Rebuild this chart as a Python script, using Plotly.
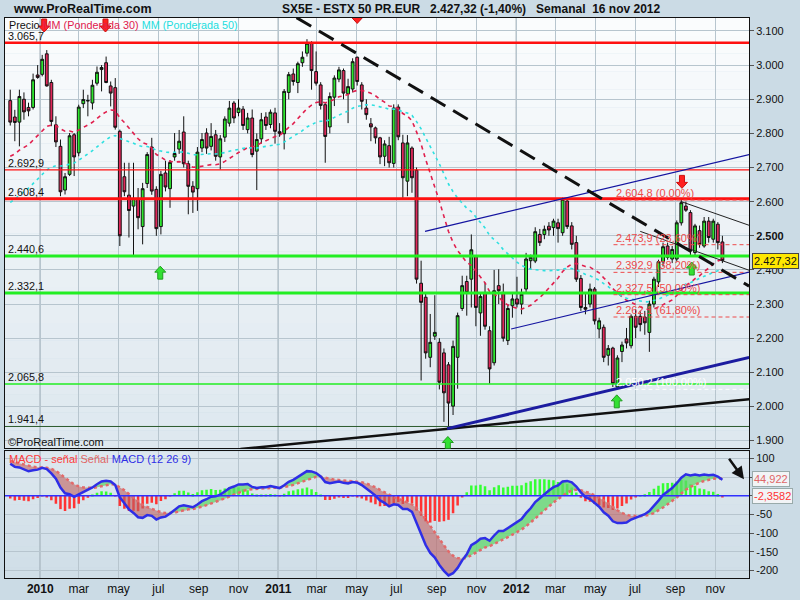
import numpy as np
import pandas as pd
import plotly.graph_objects as go

# ---------------- data ----------------
opens = [2896, 2848, 2833, 2900, 2876, 2876, 2971, 2973, 3033, 2949, 2825, 2762, 2634, 2680, 2796, 2743,
         2887, 2895, 2889, 2947, 2987, 3007, 2939, 2934, 2806, 2673, 2619, 2587, 2607, 2527, 2653, 2760,
         2636, 2527, 2684, 2638, 2731, 2754, 2804, 2711, 2645, 2638, 2757, 2801, 2762, 2796, 2731, 2789,
         2830, 2889, 2861, 2871, 2811, 2845, 2748, 2784, 2848, 2826, 2860, 2805, 2799, 2920, 2974, 2949,
         3007, 3035, 3064, 2981, 2942, 2884, 2819, 2906, 2959, 2984, 2916, 2930, 3023, 2942, 2874, 2828,
         2816, 2787, 2733, 2764, 2712, 2877, 2772, 2660, 2757, 2692, 2361, 2320, 2144, 2206, 2188, 2157,
         2122, 2001, 2144, 2287, 2366, 2373, 2439, 2274, 2334, 2222, 2128, 2354, 2334, 2193, 2295, 2315,
         2300, 2344, 2427, 2426, 2504, 2504, 2528, 2524, 2538, 2509, 2602, 2529, 2480, 2375, 2290, 2300,
         2344, 2227, 2232, 2150, 2171, 2057, 2161, 2198, 2178, 2264, 2264, 2262, 2217, 2300, 2365, 2424,
         2470, 2432, 2432, 2538, 2587, 2568, 2451, 2515, 2470, 2543, 2490, 2534, 2482]
highs = [2928, 2869, 2928, 2920, 2890, 2975, 3000, 3030, 3044, 2957, 2850, 2782, 2684, 2801, 2801, 2884,
         2928, 2913, 2957, 2996, 3000, 3025, 2952, 2962, 2811, 2714, 2714, 2714, 2640, 2655, 2745, 2787,
         2645, 2690, 2720, 2722, 2801, 2810, 2850, 2720, 2660, 2760, 2801, 2815, 2830, 2810, 2795, 2850,
         2895, 2895, 2900, 2880, 2860, 2870, 2800, 2860, 2862, 2870, 2875, 2830, 2930, 2980, 2990, 3010,
         3040, 3076, 3070, 3040, 2950, 2890, 2920, 2970, 2995, 2990, 2960, 3020, 3025, 2950, 2900, 2845,
         2820, 2790, 2780, 2790, 2885, 2885, 2796, 2795, 2762, 2700, 2427, 2335, 2271, 2326, 2200, 2170,
         2130, 2193, 2275, 2383, 2383, 2504, 2441, 2330, 2363, 2235, 2400, 2402, 2360, 2300, 2330, 2380,
         2345, 2450, 2445, 2525, 2520, 2530, 2540, 2550, 2550, 2612, 2610, 2540, 2500, 2385, 2330, 2360,
         2350, 2260, 2240, 2180, 2175, 2150, 2190, 2230, 2270, 2285, 2280, 2280, 2310, 2380, 2430, 2480,
         2480, 2470, 2545, 2605, 2600, 2575, 2535, 2530, 2555, 2555, 2550, 2540, 2500]
lows = [2823, 2777, 2762, 2840, 2850, 2870, 2960, 2967, 2937, 2821, 2760, 2616, 2621, 2675, 2675, 2733,
        2874, 2850, 2870, 2940, 2923, 2947, 2879, 2811, 2470, 2616, 2495, 2443, 2519, 2475, 2640, 2620,
        2500, 2504, 2630, 2582, 2720, 2740, 2700, 2563, 2567, 2573, 2745, 2740, 2750, 2720, 2694, 2775,
        2820, 2830, 2850, 2810, 2800, 2730, 2634, 2770, 2810, 2815, 2770, 2790, 2753, 2900, 2940, 2918,
        2995, 3025, 2928, 2940, 2870, 2714, 2800, 2880, 2950, 2900, 2830, 2920, 2940, 2870, 2840, 2777,
        2770, 2710, 2704, 2700, 2700, 2780, 2611, 2616, 2626, 2360, 2076, 2140, 2115, 2195, 2050, 1955,
        1941, 1975, 2052, 2280, 2266, 2290, 2235, 2207, 2225, 2067, 2120, 2300, 2190, 2180, 2260, 2290,
        2270, 2330, 2400, 2420, 2470, 2490, 2500, 2500, 2480, 2500, 2520, 2460, 2365, 2280, 2270, 2290,
        2240, 2200, 2130, 2120, 2057, 2050, 2130, 2170, 2170, 2200, 2220, 2210, 2160, 2290, 2350, 2410,
        2430, 2420, 2425, 2530, 2570, 2440, 2440, 2465, 2465, 2480, 2480, 2460, 2420]
closes = [2833, 2832, 2908, 2863, 2866, 2957, 2964, 3017, 2939, 2835, 2775, 2629, 2673, 2793, 2731, 2877,
          2899, 2896, 2941, 2979, 2993, 2949, 2918, 2818, 2500, 2629, 2574, 2609, 2553, 2638, 2738, 2631,
          2521, 2680, 2643, 2715, 2741, 2777, 2711, 2645, 2628, 2745, 2782, 2757, 2791, 2733, 2784, 2842,
          2874, 2845, 2874, 2823, 2845, 2738, 2782, 2840, 2823, 2862, 2806, 2800, 2923, 2972, 2952, 3004,
          3023, 3064, 2984, 2947, 2882, 2791, 2908, 2962, 2986, 2918, 2937, 3010, 2952, 2894, 2855, 2819,
          2787, 2731, 2769, 2714, 2874, 2790, 2670, 2772, 2670, 2373, 2305, 2157, 2188, 2217, 2071, 2040,
          2010, 2176, 2266, 2354, 2334, 2459, 2290, 2322, 2235, 2110, 2339, 2339, 2200, 2287, 2315, 2300,
          2329, 2432, 2437, 2512, 2480, 2519, 2517, 2543, 2521, 2607, 2527, 2475, 2373, 2290, 2285, 2344,
          2251, 2251, 2144, 2170, 2067, 2142, 2180, 2186, 2264, 2232, 2240, 2245, 2300, 2373, 2424, 2468,
          2437, 2460, 2538, 2597, 2575, 2456, 2529, 2475, 2543, 2495, 2543, 2480, 2427.32]
first_week = "2009-11-16"

level_values = [3065.7, 2692.9, 2608.4, 2440.6, 2332.1, 2065.8, 1941.4]
level_labels = ["3.065,7", "2.692,9", "2.608,4", "2.440,6", "2.332,1", "2.065,8", "1.941,4"]
fib_values = [2604.8, 2473.9, 2392.9, 2327.5, 2262.1, 2050.2]
fib_labels = ["2.604,8 (0,00%)", "2.473,9 (23,60%)", "2.392,9 (38,20%)", "2.327,5 (50,00%)",
              "2.262,1 (61,80%)", "2.050,2 (100,00%)"]
fib_start = "2012-05-29"

# trend lines: (date0, price0, date1, price1)
dashed_trend = ("2011-01-29", 3139, "2012-12-23", 2352.6)
black_support = ("2010-11-04", 1875.5, "2012-12-23", 2020.9)
blue_support = ("2011-09-17", 1935, "2012-12-23", 2143.8)
channel_upper = ("2011-08-14", 2513.1, "2012-12-23", 2737.9)
channel_lower = ("2011-12-24", 2227, "2012-12-23", 2393.4)
thin_upper = ("2012-09-09", 2600.7, "2012-12-23", 2530.7)
thin_lower = ("2012-07-09", 2513, "2012-12-23", 2399)

down_arrow_dates = ["2010-01-07", "2010-04-11", "2011-05-02", "2012-09-11"]
down_arrow_tips = [3097, 3097, 3122, 2639]
up_arrow_dates = ["2010-07-04", "2011-09-18", "2012-06-03", "2012-09-26"]
up_arrow_tips = [2411, 1912, 2034, 2423]

price_ticks = [1900, 2000, 2100, 2200, 2300, 2400, 2500, 2600, 2700, 2800, 2900, 3000, 3100]
price_tick_text = ["1.900", "2.000", "2.100", "2.200", "2.300", "2.400", "<b>2.500</b>", "2.600",
                   "2.700", "2.800", "2.900", "3.000", "3.100"]
macd_ticks = [100, 50, 0, -50, -100, -150, -200]
macd_tick_text = ["100", "", "", "-50", "-100", "-150", "-200"]
month_ticks = ["2010-01-01", "2010-03-01", "2010-05-01", "2010-07-01", "2010-09-01", "2010-11-01",
               "2011-01-01", "2011-03-01", "2011-05-01", "2011-07-01", "2011-09-01", "2011-11-01",
               "2012-01-01", "2012-03-01", "2012-05-01", "2012-07-01", "2012-09-01", "2012-11-01"]
month_labels = ["<b>2010</b>", "mar", "may", "jul", "sep", "nov", "<b>2011</b>", "mar", "may", "jul",
                "sep", "nov", "<b>2012</b>", "mar", "may", "jul", "sep", "nov"]
year_lines = ["2010-01-01", "2011-01-01", "2012-01-01"]

wma30_seed = 2726
wma50_seed = 2588
ema12_seed = 2862
ema26_seed = 2767
signal_seed = 95

# ---------------- derived series ----------------
dates = pd.date_range(start=first_week, periods=len(closes), freq="W-MON")
c = np.array(closes, dtype=float)


def wma(vals, n, seed):
    padded = np.concatenate([np.full(n - 1, seed), vals])
    w = np.arange(1, n + 1)
    return np.array([np.dot(padded[i:i + n], w) / w.sum() for i in range(len(vals))])


def ema(vals, n, seed):
    a = 2.0 / (n + 1)
    out = []
    prev = seed
    for v in vals:
        prev = prev + a * (v - prev)
        out.append(prev)
    return np.array(out)


wma30 = wma(c, 30, wma30_seed)
wma50 = wma(c, 50, wma50_seed)
macd = ema(c, 12, ema12_seed) - ema(c, 26, ema26_seed)
signal = ema(macd, 9, signal_seed)
hist = macd - signal

# ---------------- geometry helpers ----------------
W, H = 800, 600
L, R, T, B = 4, 51, 18, 20
PW, PH = W - L - R, H - T - B
X0 = pd.Timestamp("2009-11-07 22:30")
X1 = pd.Timestamp("2012-12-22 19:00")
DAYS_PER_PX = (X1 - X0).total_seconds() / 86400 / PW
Y_MAIN = (1877.0, 3138.0)
Y_MACD = (-220.6, 118.7)
MAIN_PX = 432.0
PRICE_PER_PX = (Y_MAIN[1] - Y_MAIN[0]) / MAIN_PX


def px(xp):
    return (xp - L) / PW


def py(yp):
    return (H - B - yp) / PH


def ms(d):
    return pd.Timestamp(d).value // 10 ** 6


fig = go.Figure()

PAGE_BG = "#cbdbe5"
FONT = "Liberation Sans, Arial, sans-serif"

shapes = []


def gradient(y0p, y1p, ctop, cbot, n=24):
    for i in range(n):
        t = i / (n - 1)
        col = tuple(int(round(ctop[k] + (cbot[k] - ctop[k]) * t)) for k in range(3))
        shapes.append(dict(type="rect", xref="paper", yref="paper", x0=0, x1=1,
                           y0=py(y0p + (y1p - y0p) * (i + 1) / n), y1=py(y0p + (y1p - y0p) * i / n),
                           fillcolor="rgb(%d,%d,%d)" % col, line=dict(width=0), layer="below"))


gradient(18, 450, (250, 252, 253), (222, 232, 239))
gradient(453, 580, (220, 231, 238), (208, 222, 231), n=12)

for d in year_lines:
    shapes.append(dict(type="line", xref="x", yref="paper", x0=d, x1=d, y0=0, y1=1,
                       line=dict(color="#7f8f9a", width=1.2), layer="below"))

# candles
fig.add_trace(go.Candlestick(
    x=dates, open=opens, high=highs, low=lows, close=closes,
    increasing=dict(fillcolor="#2ee62e", line=dict(color="#111111", width=1)),
    decreasing=dict(fillcolor="#e0285a", line=dict(color="#111111", width=1)),
    whiskerwidth=0, showlegend=False, hoverinfo="skip", xaxis="x", yaxis="y"))

fig.add_trace(go.Scatter(x=dates, y=wma30, mode="lines", line=dict(color="#e0204e", width=1.6, dash="4px,4px"),
                         showlegend=False, hoverinfo="skip", xaxis="x", yaxis="y"))
fig.add_trace(go.Scatter(x=dates, y=wma50, mode="lines", line=dict(color="#2ee0e0", width=1.6, dash="3px,4px"),
                         showlegend=False, hoverinfo="skip", xaxis="x", yaxis="y"))

lvl_style = [("#ff1010", 2.5), ("#ff1010", 1.2), ("#ff1010", 3), ("#22ee22", 3), ("#22ee22", 3),
             ("#22ee22", 1.6), ("#2c5a2c", 1)]
for v, (col, wd) in zip(level_values, lvl_style):
    shapes.append(dict(type="line", xref="paper", yref="y", x0=0, x1=1, y0=v, y1=v,
                       line=dict(color=col, width=wd)))

for i, v in enumerate(fib_values):
    col = "#ffffff" if i == len(fib_values) - 1 else "#ee4a4a"
    shapes.append(dict(type="line", xref="x", yref="y", x0=fib_start, x1=str(X1), y0=v, y1=v,
                       line=dict(color=col, width=1, dash="4px,3px")))


def tline(t, color, width, dash=None):
    ln = dict(color=color, width=width)
    if dash:
        ln["dash"] = dash
    shapes.append(dict(type="line", xref="x", yref="y", x0=t[0], y0=t[1], x1=t[2], y1=t[3], line=ln))


tline(black_support, "#111111", 2.5)
tline(blue_support, "#1c1ca0", 3)
tline(channel_upper, "#1414a0", 1.2)
tline(channel_lower, "#1414a0", 1.2)
tline(thin_upper, "#222222", 1)
tline(thin_lower, "#222222", 1)
tline(dashed_trend, "#111111", 3, "17px,9px")


def arrow(d, tip, down, fill, edge):
    tx = ms(d)
    dxu = DAYS_PER_PX * 86400000
    pts = [(0, 0), (-5.5, 6), (-2.5, 6), (-2.5, 13), (2.5, 13), (2.5, 6), (5.5, 6)]
    sgn = 1 if down else -1
    path = "M " + " L ".join("%f,%f" % (tx + p[0] * dxu, tip + sgn * p[1] * PRICE_PER_PX) for p in pts) + " Z"
    shapes.append(dict(type="path", xref="x", yref="y", path=path, fillcolor=fill,
                       line=dict(color=edge, width=1)))


for d, t in zip(down_arrow_dates, down_arrow_tips):
    arrow(d, t, True, "#ff2020", "#cc1010")
for d, t in zip(up_arrow_dates, up_arrow_tips):
    arrow(d, t, False, "#33e033", "#1e9e1e")

# ---------------- MACD panel ----------------
upper = np.maximum(macd, signal)
lower = np.minimum(macd, signal)
fig.add_trace(go.Scatter(x=dates, y=signal, mode="lines", line=dict(width=0), showlegend=False,
                         hoverinfo="skip", xaxis="x2", yaxis="y2"))
fig.add_trace(go.Scatter(x=dates, y=upper, mode="lines", line=dict(width=0), fill="tonexty",
                         fillcolor="rgba(95,215,105,0.75)", showlegend=False, hoverinfo="skip",
                         xaxis="x2", yaxis="y2"))
fig.add_trace(go.Scatter(x=dates, y=signal, mode="lines", line=dict(width=0), showlegend=False,
                         hoverinfo="skip", xaxis="x2", yaxis="y2"))
fig.add_trace(go.Scatter(x=dates, y=lower, mode="lines", line=dict(width=0), fill="tonexty",
                         fillcolor="rgba(190,95,95,0.6)", showlegend=False, hoverinfo="skip",
                         xaxis="x2", yaxis="y2"))
fig.add_trace(go.Bar(x=dates, y=hist, marker=dict(color=["#33ff33" if h >= 0 else "#ff3333" for h in hist],
                                                  line=dict(width=0)),
                     width=7 * 0.55 * 86400000, showlegend=False, hoverinfo="skip", xaxis="x2", yaxis="y2"))
shapes.append(dict(type="line", xref="x2", yref="y2", x0=str(X0), x1=str(X1), y0=0, y1=0,
                   line=dict(color="#3030ff", width=1.5)))
fig.add_trace(go.Scatter(x=dates, y=signal, mode="lines", line=dict(color="#e26a6a", width=2.5, dash="3px,3px"),
                         showlegend=False, hoverinfo="skip", xaxis="x2", yaxis="y2"))
fig.add_trace(go.Scatter(x=dates, y=macd, mode="lines", line=dict(color="#2e2ee6", width=2.5),
                         showlegend=False, hoverinfo="skip", xaxis="x2", yaxis="y2"))

# ---------------- annotations ----------------
NB = "\u00a0"
ann = []
ann.append(dict(xref="paper", yref="paper", x=px(10), y=py(9), xanchor="left", yanchor="middle",
                text="<b>www.ProRealTime.com</b>", showarrow=False, font=dict(size=12.5, color="#111", family=FONT)))
ann.append(dict(xref="paper", yref="paper", x=px(279), y=py(9), xanchor="left", yanchor="middle",
                text="<b>SX5E - ESTX 50 PR.EUR" + NB * 3 + "2.427,32 (-1,40%)" + NB * 3 + "Semanal" + NB * 2
                     + "16 nov 2012</b>",
                showarrow=False, font=dict(size=12, color="#111", family=FONT)))
ann.append(dict(xref="paper", yref="paper", x=px(6), y=py(25), xanchor="left", yanchor="middle",
                text="Precio <span style='color:#e0204e'>MM (Ponderada 30)</span> "
                     "<span style='color:#22dddd'>MM (Ponderada 50)</span>",
                showarrow=False, font=dict(size=10.8, color="#111", family=FONT)))
for v, t in zip(level_values, level_labels):
    ann.append(dict(xref="paper", yref="y", x=px(5), y=v, xanchor="left", yanchor="bottom", yshift=-1,
                    text=t, showarrow=False, font=dict(size=10.8, color="#111", family=FONT)))
for i, (v, t) in enumerate(zip(fib_values, fib_labels)):
    col = "#ffffff" if i == len(fib_values) - 1 else "#ee4a4a"
    ann.append(dict(xref="x", yref="y", x=fib_start, y=v, xanchor="left", yanchor="bottom", xshift=1, yshift=-1,
                    text=t, showarrow=False, font=dict(size=11, color=col, family=FONT)))
ann.append(dict(xref="paper", yref="paper", x=px(5), y=py(444), xanchor="left", yanchor="middle",
                text="\u00a9ProRealTime.com", showarrow=False, font=dict(size=11, color="#111", family=FONT)))
ann.append(dict(xref="paper", yref="y", x=1.004, y=closes[-1], xanchor="left", yanchor="middle",
                text="2.427,32", showarrow=False, bgcolor="#ffe800", bordercolor="#444", borderwidth=1,
                borderpad=1, font=dict(size=11, color="#111", family=FONT)))
ann.append(dict(xref="paper", yref="paper", x=px(6), y=py(461), xanchor="left", yanchor="middle",
                text="<span style='color:#ff3a3a'>MACD - señal</span> <span style='color:#e06666'>Señal</span> "
                     "<span style='color:#2e2ee6'>MACD (12 26 9)</span>",
                showarrow=False, font=dict(size=11, family=FONT)))
ann.append(dict(xref="paper", yref="y2", x=1.004, y=signal[-1], xanchor="left", yanchor="middle",
                text="44,922", showarrow=False, bgcolor="#f2f4f6", bordercolor="#9aa", borderwidth=1,
                borderpad=1, font=dict(size=11, color="#e06666", family=FONT)))
ann.append(dict(xref="paper", yref="y2", x=1.004, y=0, xanchor="left", yanchor="middle",
                text="-2,3582", showarrow=False, bgcolor="#f2f4f6", bordercolor="#9aa", borderwidth=1,
                borderpad=1, font=dict(size=11, color="#ff3333", family=FONT)))
ann.append(dict(xref="paper", yref="paper", x=px(744), y=py(481), ax=-16, ay=-22,
                showarrow=True, arrowhead=2, arrowsize=1, arrowwidth=2.5, arrowcolor="#111", text=""))

GRID = "#b7c5ce"
fig.update_layout(
    width=W, height=H, margin=dict(l=L, r=R, t=T, b=B),
    paper_bgcolor=PAGE_BG, plot_bgcolor="rgba(0,0,0,0)",
    showlegend=False, boxgap=0.12, bargap=0.4,
    shapes=shapes, annotations=ann,
    font=dict(family=FONT, size=11, color="#111"),
    xaxis=dict(type="date", range=[X0, X1], domain=[0, 1], anchor="y", showticklabels=False,
               tickvals=month_ticks, showgrid=True, gridcolor=GRID, gridwidth=1, ticks="",
               rangeslider=dict(visible=False), showline=True, linecolor="#111", linewidth=1, mirror=True,
               zeroline=False),
    yaxis=dict(domain=[(H - B - 450) / PH, 1], range=list(Y_MAIN), side="right", anchor="x",
               tickvals=price_ticks, ticktext=price_tick_text, showgrid=True, gridcolor=GRID,
               ticks="outside", ticklen=4, tickcolor="#555", showline=True, linecolor="#111", linewidth=1,
               mirror=True, zeroline=False, tickfont=dict(size=11, color="#111")),
    xaxis2=dict(type="date", range=[X0, X1], domain=[0, 1], anchor="y2", matches="x",
                tickvals=month_ticks, ticktext=month_labels, showgrid=True, gridcolor=GRID, ticks="",
                showline=True, linecolor="#111", linewidth=1, mirror=True, zeroline=False,
                tickfont=dict(size=12, color="#111")),
    yaxis2=dict(domain=[0, (H - B - 453) / PH], range=list(Y_MACD), side="right", anchor="x2",
                tickvals=macd_ticks, ticktext=macd_tick_text, showgrid=True, gridcolor=GRID,
                ticks="outside", ticklen=4, tickcolor="#555", showline=True, linecolor="#111", linewidth=1,
                mirror=True, zeroline=False, tickfont=dict(size=11, color="#111")),
)

fig.write_html("out.html", config={"displayModeBar": False},
               post_script="document.body.style.margin='0';document.body.style.overflow='hidden';")
